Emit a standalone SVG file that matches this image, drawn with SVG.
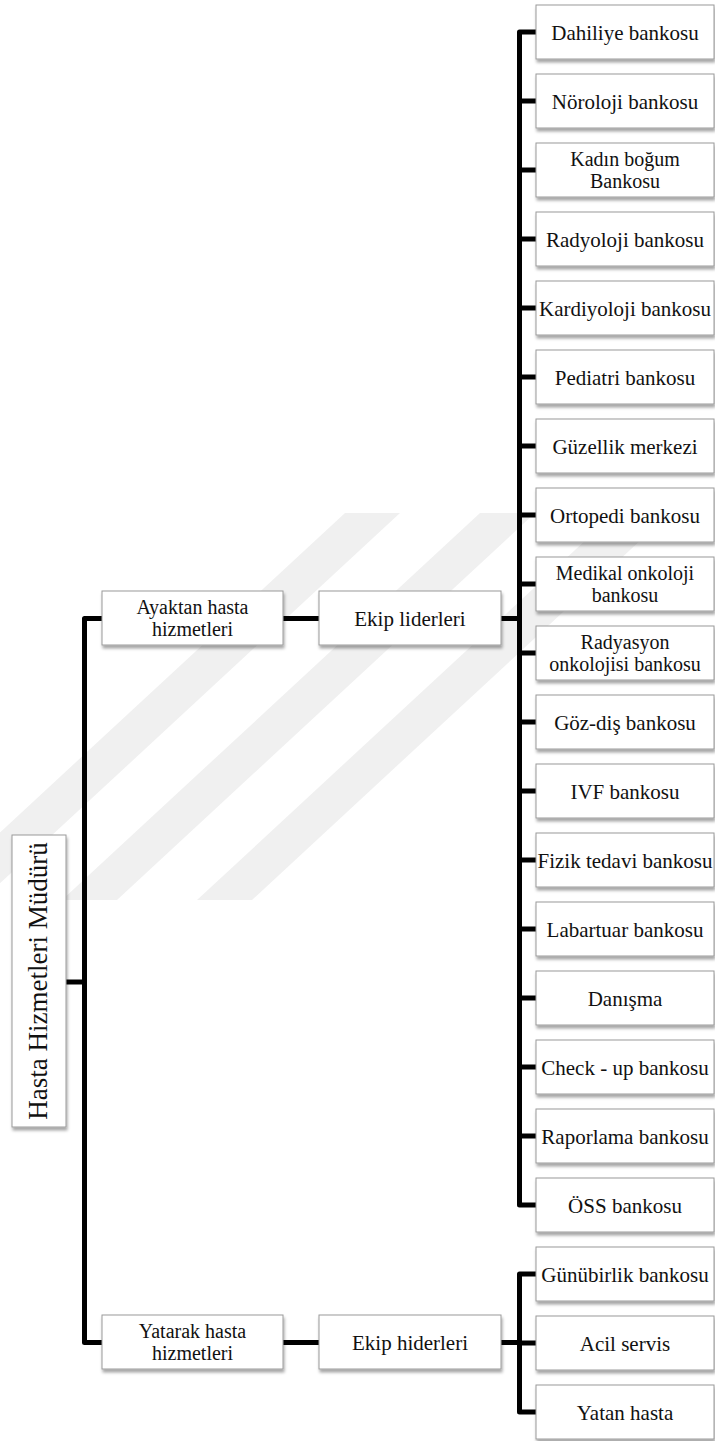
<svg xmlns="http://www.w3.org/2000/svg" width="715" height="1441" viewBox="0 0 715 1441">
<style>
.box{fill:#fff;stroke:#9a9a9a;stroke-width:1;filter:url(#sh)}
.t{font-family:"Liberation Serif","Times New Roman",serif;font-size:21px;fill:#111;text-anchor:middle}
.t2{font-size:20px}
.root{font-size:27px}
.con{fill:none;stroke:#000;stroke-width:5;stroke-linejoin:round;stroke-linecap:butt}
.wm{fill:#f0f0f0}
</style>
<defs>
<filter id="sh" x="-10%" y="-10%" width="125%" height="140%">
<feDropShadow dx="1" dy="3" stdDeviation="1.5" flood-color="#000" flood-opacity="0.35"/>
</filter>
</defs>
<rect width="715" height="1441" fill="#fff"/>
<g id="watermark">
<polygon class="wm" points="345,513 400,513 -18,900 -73,900"/>
<polygon class="wm" points="480,513 535,513 117,900 62,900"/>
<polygon class="wm" points="615,513 670,513 252,900 197,900"/>
</g>
<g id="connectors">
<path class="con" d="M66,982 H84.5"/>
<path class="con" d="M102,618.5 H84.5 V1342.5 H102"/>
<path class="con" d="M283,618.5 H319"/>
<path class="con" d="M283,1342.5 H319"/>
<path class="con" d="M501,618.5 H519.5"/>
<path class="con" d="M501,1342.5 H519.5"/>
<path class="con" d="M536,32 H519.5 V1205 H536"/>
<path class="con" d="M519.5,101 H536 M519.5,170 H536 M519.5,239 H536 M519.5,308 H536 M519.5,377 H536 M519.5,446 H536 M519.5,515 H536 M519.5,584 H536 M519.5,653 H536 M519.5,722 H536 M519.5,791 H536 M519.5,860 H536 M519.5,929 H536 M519.5,998 H536 M519.5,1067 H536 M519.5,1136 H536"/>
<path class="con" d="M536,1274 H519.5 V1412 H536"/>
<path class="con" d="M519.5,1343 H536"/>
</g>
<g id="root"><rect class="box" x="12" y="835" width="54" height="292"/><text class="t root" x="39" y="989" transform="rotate(-90 39 981)">Hasta Hizmetleri Müdürü</text></g>
<g id="ayaktan"><rect class="box" x="102" y="591" width="181" height="54"/><text class="t t2" x="192.5" y="614">Ayaktan hasta<tspan x="192.5" dy="22.2">hizmetleri</tspan></text></g>
<g id="ekip-liderleri"><rect class="box" x="319" y="591" width="182" height="54"/><text class="t" x="410" y="625.5">Ekip liderleri</text></g>
<g id="yatarak"><rect class="box" x="102" y="1315" width="181" height="54"/><text class="t t2" x="192.5" y="1338">Yatarak hasta<tspan x="192.5" dy="22.2">hizmetleri</tspan></text></g>
<g id="ekip-hiderleri"><rect class="box" x="319" y="1315" width="182" height="54"/><text class="t" x="410" y="1349.5">Ekip hiderleri</text></g>
<g id="dahiliye"><rect class="box" x="536" y="5" width="178" height="54"/><text class="t" x="625" y="39.5">Dahiliye bankosu</text></g>
<g id="noroloji"><rect class="box" x="536" y="74" width="178" height="54"/><text class="t" x="625" y="108.5">Nöroloji bankosu</text></g>
<g id="kadin"><rect class="box" x="536" y="143" width="178" height="54"/><text class="t t2" x="625" y="166">Kadın boğum<tspan x="625" dy="22.2">Bankosu</tspan></text></g>
<g id="radyoloji"><rect class="box" x="536" y="212" width="178" height="54"/><text class="t" x="625" y="246.5">Radyoloji bankosu</text></g>
<g id="kardiyoloji"><rect class="box" x="536" y="281" width="178" height="54"/><text class="t" x="625" y="315.5">Kardiyoloji bankosu</text></g>
<g id="pediatri"><rect class="box" x="536" y="350" width="178" height="54"/><text class="t" x="625" y="384.5">Pediatri bankosu</text></g>
<g id="guzellik"><rect class="box" x="536" y="419" width="178" height="54"/><text class="t" x="625" y="453.5">Güzellik merkezi</text></g>
<g id="ortopedi"><rect class="box" x="536" y="488" width="178" height="54"/><text class="t" x="625" y="522.5">Ortopedi bankosu</text></g>
<g id="medikal"><rect class="box" x="536" y="557" width="178" height="54"/><text class="t t2" x="625" y="580">Medikal onkoloji<tspan x="625" dy="22.2">bankosu</tspan></text></g>
<g id="radyasyon"><rect class="box" x="536" y="626" width="178" height="54"/><text class="t t2" x="625" y="649">Radyasyon<tspan x="625" dy="22.2">onkolojisi bankosu</tspan></text></g>
<g id="gozdis"><rect class="box" x="536" y="695" width="178" height="54"/><text class="t" x="625" y="729.5">Göz-diş bankosu</text></g>
<g id="ivf"><rect class="box" x="536" y="764" width="178" height="54"/><text class="t" x="625" y="798.5">IVF bankosu</text></g>
<g id="fizik"><rect class="box" x="536" y="833" width="178" height="54"/><text class="t" x="625" y="867.5">Fizik tedavi bankosu</text></g>
<g id="labartuar"><rect class="box" x="536" y="902" width="178" height="54"/><text class="t" x="625" y="936.5">Labartuar bankosu</text></g>
<g id="danisma"><rect class="box" x="536" y="971" width="178" height="54"/><text class="t" x="625" y="1005.5">Danışma</text></g>
<g id="checkup"><rect class="box" x="536" y="1040" width="178" height="54"/><text class="t" x="625" y="1074.5">Check - up bankosu</text></g>
<g id="raporlama"><rect class="box" x="536" y="1109" width="178" height="54"/><text class="t" x="625" y="1143.5">Raporlama bankosu</text></g>
<g id="oss"><rect class="box" x="536" y="1178" width="178" height="54"/><text class="t" x="625" y="1212.5">ÖSS bankosu</text></g>
<g id="gunubirlik"><rect class="box" x="536" y="1247" width="178" height="54"/><text class="t" x="625" y="1281.5">Günübirlik bankosu</text></g>
<g id="acil"><rect class="box" x="536" y="1316" width="178" height="54"/><text class="t" x="625" y="1350.5">Acil servis</text></g>
<g id="yatan"><rect class="box" x="536" y="1385" width="178" height="54"/><text class="t" x="625" y="1419.5">Yatan hasta</text></g>
</svg>
